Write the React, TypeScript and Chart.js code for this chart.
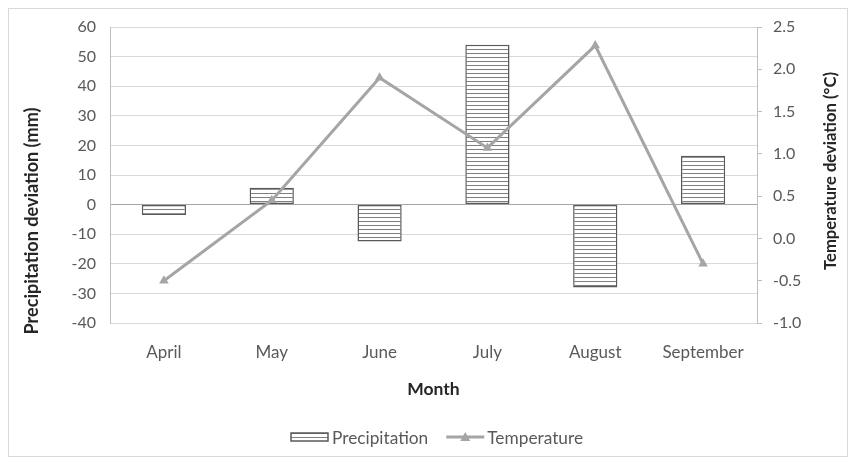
import { useEffect, useRef } from 'react';
import { Chart, registerables } from 'chart.js';

Chart.register(...registerables);

const months = ['April', 'May', 'June', 'July', 'August', 'September'];
const precipitation = [-3.5, 5.7, -12.5, 54, -28, 16.5];
const temperature = [-0.5, 0.45, 1.9, 1.07, 2.28, -0.3];
const precipRange = [-40, 60, 10];
const tempRange = [-1.0, 2.5, 0.5];
const leftTitle = 'Precipitation deviation (mm)';
const rightTitle = 'Temperature deviation (°C)';
const xTitle = 'Month';
const legendLabels = ['Precipitation', 'Temperature'];

const FONT = 'Lato, "Open Sans", sans-serif';

function makePattern(): CanvasPattern | string {
  const c = document.createElement('canvas');
  c.width = 4;
  c.height = 4;
  const g = c.getContext('2d');
  if (!g) return '#ffffff';
  g.fillStyle = '#ffffff';
  g.fillRect(0, 0, 4, 4);
  g.fillStyle = '#7f7f7f';
  g.fillRect(0, 0, 4, 1);
  return g.createPattern(c, 'repeat') || '#ffffff';
}

function fitBold(ctx: CanvasRenderingContext2D, text: string, target: number) {
  ctx.font = `bold 14px ${FONT}`;
  const w = ctx.measureText(text).width;
  const size = (14 * target) / w;
  ctx.font = `bold ${size}px ${FONT}`;
}

export default function App() {
  const ref = useRef<HTMLCanvasElement | null>(null);

  useEffect(() => {
    document.documentElement.style.overflow = 'hidden';
    const canvas = ref.current;
    if (!canvas) return;
    const pattern = makePattern();

    const extrasPlugin = {
      id: 'extras',
      afterDraw(chart: any) {
        const ctx = chart.ctx as CanvasRenderingContext2D;
        ctx.save();
        // axis titles (both read bottom-to-top)
        ctx.fillStyle = '#262626';
        ctx.textAlign = 'center';
        ctx.textBaseline = 'middle';
        fitBold(ctx, leftTitle, 227);
        ctx.save();
        ctx.translate(23, 212);
        ctx.rotate(-Math.PI / 2);
        ctx.fillText(leftTitle, 0, 0);
        ctx.restore();
        fitBold(ctx, rightTitle, 198);
        ctx.save();
        ctx.translate(822, 162);
        ctx.rotate(-Math.PI / 2);
        ctx.fillText(rightTitle, 0, 0);
        ctx.restore();

        // legend
        ctx.font = `17.3px ${FONT}`;
        const [t1, t2] = legendLabels;
        const w1 = ctx.measureText(t1).width;
        const boxW = 37, lineW = 38, itemGap = 18;
        let x = 282;
        const y = 428;
        ctx.fillStyle = pattern as any;
        ctx.fillRect(x, y - 4, boxW, 8);
        ctx.strokeStyle = '#595959';
        ctx.lineWidth = 1.5;
        ctx.strokeRect(x, y - 4, boxW, 8);
        x += boxW + 4;
        ctx.fillStyle = '#595959';
        ctx.textAlign = 'left';
        ctx.fillText(t1, x, y + 1);
        x += w1 + itemGap;
        ctx.strokeStyle = '#a5a5a5';
        ctx.lineWidth = 3;
        ctx.beginPath();
        ctx.moveTo(x, y);
        ctx.lineTo(x + lineW, y);
        ctx.stroke();
        const cx = x + lineW / 2;
        ctx.fillStyle = '#a5a5a5';
        ctx.beginPath();
        ctx.moveTo(cx, y - 5);
        ctx.lineTo(cx + 5, y + 4);
        ctx.lineTo(cx - 5, y + 4);
        ctx.closePath();
        ctx.fill();
        x += lineW + 3;
        ctx.fillStyle = '#595959';
        ctx.fillText(t2, x, y + 1);
        ctx.restore();
      },
    };

    const chart = new Chart(canvas, {
      type: 'bar',
      data: {
        labels: months,
        datasets: [
          {
            type: 'line',
            label: legendLabels[1],
            data: temperature,
            yAxisID: 'y1',
            borderColor: '#a5a5a5',
            backgroundColor: '#a5a5a5',
            borderWidth: 3,
            pointStyle: 'triangle',
            pointRadius: 5.5,
            pointBorderWidth: 0,
            tension: 0,
            order: 0,
          },
          {
            type: 'bar',
            label: legendLabels[0],
            data: precipitation,
            yAxisID: 'y',
            backgroundColor: pattern as any,
            borderColor: '#595959',
            borderWidth: 1.5,
            borderSkipped: false,
            categoryPercentage: 1,
            barPercentage: 0.41,
            order: 1,
          },
        ],
      },
      options: {
        animation: false,
        responsive: true,
        maintainAspectRatio: false,
        layout: { padding: { left: 0, right: 0, top: 18, bottom: 43 } },
        plugins: {
          legend: { display: false },
          tooltip: { enabled: false },
        },
        scales: {
          x: {
            grid: { display: false },
            border: { display: false },
            ticks: {
              color: '#595959',
              font: { family: FONT, size: 17 },
              padding: 11,
            },
            title: {
              display: true,
              text: xTitle,
              color: '#262626',
              font: { family: FONT, size: 17.5, weight: 'bold' },
              padding: { top: 0, bottom: 13 },
            },
            afterFit(scale: any) {
              scale.height = 90;
            },
          },
          y: {
            position: 'left',
            min: precipRange[0],
            max: precipRange[1],
            ticks: {
              stepSize: precipRange[2],
              color: '#595959',
              font: { family: FONT, size: 16 },
              padding: 14,
            },
            grid: {
              drawTicks: false,
              color: (c: any) => (c.tick && c.tick.value === 0 ? '#a6a6a6' : '#d9d9d9'),
              lineWidth: 1,
            },
            border: { display: true, color: '#bfbfbf' },
            afterFit(scale: any) {
              scale.width = 101;
              scale.paddingTop = 0;
              scale.paddingBottom = 0;
            },
          },
          y1: {
            position: 'right',
            min: tempRange[0],
            max: tempRange[1],
            ticks: {
              stepSize: tempRange[2],
              color: '#595959',
              font: { family: FONT, size: 16 },
              padding: 11,
              callback: (v: any) => Number(v).toFixed(1),
            },
            grid: {
              drawOnChartArea: false,
              drawTicks: true,
              tickLength: 5,
              color: '#bfbfbf',
            },
            border: { display: true, color: '#bfbfbf' },
            afterFit(scale: any) {
              scale.width = 90;
              scale.paddingTop = 0;
              scale.paddingBottom = 0;
            },
          },
        },
      },
      plugins: [extrasPlugin],
    } as any);

    return () => {
      chart.destroy();
    };
  }, []);

  return (
    <div
      style={{
        position: 'absolute',
        left: 8,
        top: 8,
        width: 838,
        height: 447,
        border: '1px solid #d9d9d9',
        background: '#ffffff',
      }}
    >
      <canvas ref={ref} />
    </div>
  );
}
